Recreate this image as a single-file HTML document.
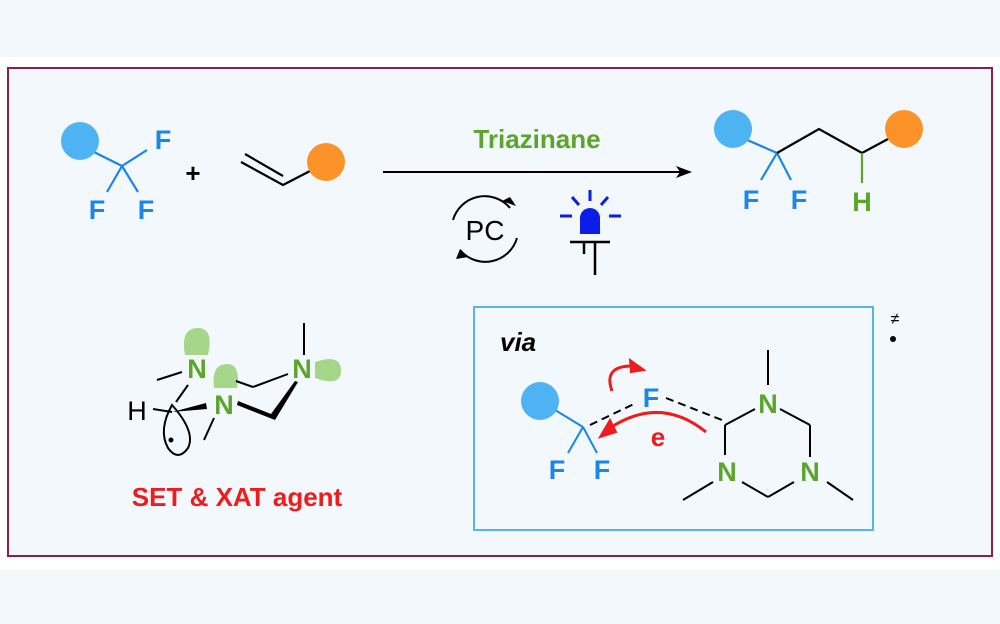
<!DOCTYPE html><html><head><style>body{margin:0;background:#f3f8fc}svg{display:block}</style></head><body>
<svg width="1000" height="624" viewBox="0 0 1000 624" font-family="Liberation Sans, sans-serif">
<rect width="1000" height="624" fill="#f3f8fc"/>
<rect x="0" y="57" width="1000" height="513" fill="#fff"/>
<rect x="8" y="68" width="984" height="488" fill="#f3f8fc" stroke="#8c1f4a" stroke-width="2"/>
<g stroke-width="2.2" fill="none">
<line x1="90" y1="150" x2="122" y2="166" stroke="#1a86e8"/><line x1="122" y1="166" x2="147" y2="150" stroke="#1a86e8"/>
<line x1="122" y1="166" x2="107" y2="192" stroke="#1a86e8"/><line x1="122" y1="166" x2="138" y2="192" stroke="#1a86e8"/>
<path d="M241 162 L283 185 L310 171" stroke="#000"/><line x1="245" y1="154" x2="283" y2="176" stroke="#000"/>
</g>
<circle cx="80" cy="141" r="19" fill="#4db3f3"/><circle cx="326" cy="162" r="19" fill="#fb9329"/>
<g font-weight="bold" font-size="27" fill="#1a86e8" text-anchor="middle">
<text x="163" y="149">F</text><text x="97" y="219">F</text><text x="146" y="219">F</text>
<text x="751" y="209">F</text><text x="799" y="209">F</text>
</g>
<text x="193" y="182" font-size="26" text-anchor="middle" font-weight="bold">+</text>
<line x1="383" y1="172" x2="682" y2="172" stroke="#000" stroke-width="2"/><path d="M692 172 L676 166 L680 172 L676 178Z"/>
<text x="537" y="148" font-size="26" font-weight="bold" fill="#5aa52a" text-anchor="middle">Triazinane</text>
<g stroke="#000" stroke-width="2" fill="none">
<path d="M453 220 A33 33 0 0 1 510 208"/><path d="M517 238 A33 33 0 0 1 460 250"/>
</g>
<path d="M516 206 L502 201 L510 197 Z M456 259 L468 257 L460 249Z" fill="#000"/>
<text x="485" y="240" font-size="28" text-anchor="middle">PC</text>
<g stroke="#0a1ee8" stroke-width="3"><line x1="590" y1="190" x2="590" y2="201"/><line x1="572" y1="197" x2="579" y2="205"/><line x1="608" y1="197" x2="601" y2="205"/><line x1="560" y1="216" x2="572" y2="216"/><line x1="609" y1="216" x2="621" y2="216"/></g>
<path d="M580 234 L580 218 A10 10 0 0 1 600 218 L600 234Z" fill="#0a1ee8"/>
<g stroke="#000" stroke-width="2.5"><line x1="570" y1="242" x2="610" y2="242"/><line x1="595" y1="242" x2="595" y2="275"/><line x1="584" y1="242" x2="584" y2="254"/></g>
<g stroke-width="2.2" fill="none">
<line x1="745" y1="139" x2="777" y2="153" stroke="#1a86e8"/><line x1="777" y1="153" x2="761" y2="180" stroke="#1a86e8"/><line x1="777" y1="153" x2="791" y2="180" stroke="#1a86e8"/>
<path d="M777 153 L819 129 L862 153 L888 139" stroke="#000"/><line x1="862" y1="153" x2="862" y2="183" stroke="#5aa52a"/>
</g>
<circle cx="733" cy="129" r="19" fill="#4db3f3"/><circle cx="904" cy="129" r="19" fill="#fb9329"/>
<text x="862" y="211" font-size="27" font-weight="bold" fill="#5aa52a" text-anchor="middle">H</text>
<!-- left triazinane -->
<g fill="#a6d68a"><path d="M185 355 Q180 328 198 328 Q214 328 208 355Z"/><path d="M214 388 Q211 364 227 364 Q241 364 237 388Z"/><path d="M315 362 Q342 353 341 372 Q340 387 315 378Z"/></g>
<g stroke="#000" stroke-width="2" fill="none">
<line x1="157" y1="380" x2="182" y2="372"/><line x1="188" y1="385" x2="176" y2="402"/><line x1="236" y1="381" x2="253" y2="387"/><line x1="253" y1="387" x2="288" y2="374"/><line x1="304" y1="323" x2="304" y2="355"/><line x1="214" y1="418" x2="204" y2="440"/><line x1="153" y1="409" x2="172" y2="412"/>
<path d="M172 405 Q158 430 168 448 Q178 462 188 448 Q196 432 172 405Z"/>
</g>
<path d="M172 412 L206 403 L207 409Z" fill="#000"/>
<path d="M237 405 L275 420 L298 382 L295 381 L271 414 L238 401Z" fill="#000"/>
<circle cx="171" cy="440" r="2.5" fill="#000"/>
<g font-size="27" font-weight="bold" fill="#5aa52a" text-anchor="middle"><text x="197" y="378">N</text><text x="224" y="414">N</text><text x="302" y="378">N</text></g>
<text x="137" y="420" font-size="27" text-anchor="middle">H</text>
<text x="237" y="506" font-size="26" font-weight="bold" fill="#ee1c1c" text-anchor="middle">SET &amp; XAT agent</text>
<!-- via box -->
<rect x="474" y="307" width="399" height="223" fill="none" stroke="#56b4e9" stroke-width="2"/>
<text x="500" y="351" font-size="26" font-weight="bold" font-style="italic">via</text>
<g stroke-width="2" fill="none">
<line x1="555" y1="410" x2="583" y2="427" stroke="#1a86e8"/><line x1="583" y1="427" x2="568" y2="453" stroke="#1a86e8"/><line x1="583" y1="427" x2="597" y2="453" stroke="#1a86e8"/>
<line x1="590" y1="425" x2="636" y2="403" stroke="#000" stroke-dasharray="8,5"/><line x1="666" y1="398" x2="722" y2="420" stroke="#000" stroke-dasharray="8,5"/>
<g stroke="#000"><line x1="725" y1="425" x2="755" y2="409"/><line x1="725" y1="425" x2="725" y2="455"/><line x1="780" y1="409" x2="810" y2="425"/><line x1="810" y1="425" x2="810" y2="457"/><line x1="742" y1="482" x2="768" y2="497"/><line x1="768" y1="497" x2="794" y2="482"/><line x1="768" y1="350" x2="768" y2="385"/><line x1="713" y1="482" x2="683" y2="500"/><line x1="827" y1="482" x2="853" y2="500"/></g>
<path d="M706 432 Q660 395 610 428" stroke="#ee1c1c" stroke-width="3"/><path d="M612 391 Q603 366 632 366" stroke="#ee1c1c" stroke-width="3"/>
</g>
<path d="M600 437 L610 420 L616 432Z" fill="#ee1c1c" stroke="#ee1c1c" stroke-width="2"/><path d="M644 370 L630 360 L631 372Z" fill="#ee1c1c" stroke="#ee1c1c" stroke-width="2"/>
<circle cx="540" cy="401" r="19" fill="#4db3f3"/>
<g font-size="27" font-weight="bold" fill="#1a86e8" text-anchor="middle"><text x="557" y="479">F</text><text x="602" y="479">F</text><text x="651" y="407">F</text></g>
<text x="658" y="446" font-size="26" font-weight="bold" fill="#ee1c1c" text-anchor="middle">e</text>
<g font-size="27" font-weight="bold" fill="#5aa52a" text-anchor="middle"><text x="768" y="413">N</text><text x="727" y="481">N</text><text x="810" y="481">N</text></g>
<text x="895" y="324" font-size="16" text-anchor="middle">≠</text><circle cx="893" cy="339" r="3" fill="#000"/>
</svg></body></html>
